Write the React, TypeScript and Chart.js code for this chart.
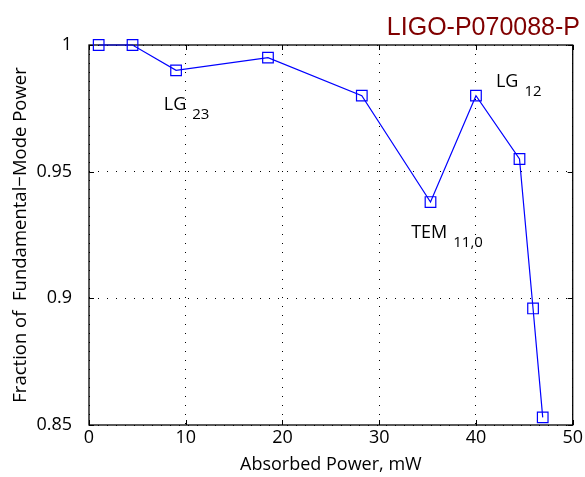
import React, { useEffect, useRef } from "react";
import { Chart, registerables } from "chart.js";

Chart.register(...registerables);

// ---- data ----
const absorbedPower = [1, 4.5, 9, 18.5, 28.2, 35.3, 40, 44.5, 45.9, 46.9];
const fundamentalFraction = [1, 1, 0.99, 0.995, 0.98, 0.938, 0.98, 0.955, 0.896, 0.853];
const xTicks = [0, 10, 20, 30, 40, 50];
const yTicks = [0.85, 0.9, 0.95, 1];
const annotationMain = ["LG", "LG", "TEM"];
const annotationSub = ["23", "12", "11,0"];
const annotationX = [7.73, 42.06, 33.3];
const annotationY = [0.9745, 0.9836, 0.9239];
const docId = "LIGO-P070088-P";
const xTitle = "Absorbed Power, mW";
const yTitle = "Fraction of  Fundamental\u2212Mode Power";

const FONT = "'Open Sans', 'DejaVu Sans', sans-serif";

const framePlugin = {
  id: "frameTicks",
  beforeDatasetsDraw(chart: any) {
    const { ctx, chartArea: a, scales } = chart;
    ctx.save();
    ctx.strokeStyle = "#000";
    ctx.lineWidth = 1;
    ctx.beginPath();
    const tl = 5;
    for (const v of xTicks) {
      const x = Math.round(scales.x.getPixelForValue(v)) + 0.5;
      ctx.moveTo(x, a.bottom);
      ctx.lineTo(x, a.bottom - tl);
      ctx.moveTo(x, a.top);
      ctx.lineTo(x, a.top + tl);
    }
    for (const v of yTicks) {
      const y = Math.round(scales.y.getPixelForValue(v)) + 0.5;
      ctx.moveTo(a.left, y);
      ctx.lineTo(a.left + tl, y);
      ctx.moveTo(a.right, y);
      ctx.lineTo(a.right - tl, y);
    }
    ctx.stroke();
    ctx.lineWidth = 1.3;
    ctx.strokeRect(a.left, a.top, a.right - a.left, a.bottom - a.top);
    ctx.restore();
  },
  afterDraw(chart: any) {
    const { ctx, scales } = chart;
    ctx.save();
    ctx.fillStyle = "#000";
    ctx.textAlign = "left";
    ctx.textBaseline = "alphabetic";
    for (let i = 0; i < annotationMain.length; i++) {
      const x = scales.x.getPixelForValue(annotationX[i]);
      const y = scales.y.getPixelForValue(annotationY[i]);
      ctx.font = `18px ${FONT}`;
      ctx.fillText(annotationMain[i], x, y);
      const w = ctx.measureText(annotationMain[i]).width;
      ctx.font = `15px ${FONT}`;
      ctx.fillText(annotationSub[i], x + w + 6, y + 9);
    }
    ctx.fillStyle = "#800000";
    ctx.font = `25px 'Liberation Sans', Arial, sans-serif`;
    ctx.textAlign = "right";
    ctx.fillText(docId, 580, 35);
    ctx.restore();
  },
};

export default function App() {
  const ref = useRef<HTMLCanvasElement | null>(null);

  useEffect(() => {
    if (!ref.current) return;
    const chart = new Chart(ref.current, {
      type: "line",
      data: {
        datasets: [
          {
            data: absorbedPower.map((x, i) => ({ x, y: fundamentalFraction[i] })),
            borderColor: "#0000ff",
            borderWidth: 1.2,
            pointStyle: "rect",
            pointRadius: 7.5,
            pointBorderWidth: 1.2,
            pointBorderColor: "#0000ff",
            pointBackgroundColor: "rgba(0,0,0,0)",
            backgroundColor: "rgba(0,0,0,0)",
            tension: 0,
            clip: false as any,
          },
        ],
      },
      options: {
        responsive: false,
        animation: false,
        devicePixelRatio: 1,
        layout: { padding: { top: 45, right: 12, left: 0, bottom: 0 } },
        plugins: { legend: { display: false }, tooltip: { enabled: false }, title: { display: false } },
        scales: {
          x: {
            type: "linear",
            min: 0,
            max: 50,
            afterBuildTicks: (s: any) => {
              s.ticks = xTicks.map((v) => ({ value: v }));
            },
            afterFit: (s: any) => {
              s.height = 52;
            },
            ticks: {
              color: "#000",
              font: { family: FONT, size: 18 },
              padding: 2,
              maxRotation: 0,
              callback: (v: any) => String(v),
            },
            grid: { color: "#000", lineWidth: 1, drawTicks: false },
            border: { display: false, dash: [1, 8] },
            title: {
              display: true,
              text: xTitle,
              color: "#000",
              font: { family: FONT, size: 18 },
              padding: { top: 0, bottom: 1 },
            },
          },
          y: {
            type: "linear",
            min: 0.85,
            max: 1,
            afterBuildTicks: (s: any) => {
              s.ticks = yTicks.map((v) => ({ value: v }));
            },
            afterFit: (s: any) => {
              s.width = 89;
            },
            ticks: {
              color: "#000",
              font: { family: FONT, size: 18 },
              padding: 17,
              callback: (v: any) => String(Number(Number(v).toFixed(2))),
            },
            grid: { color: "#000", lineWidth: 1, drawTicks: false },
            border: { display: false, dash: [1, 8] },
            title: {
              display: true,
              text: yTitle,
              color: "#000",
              font: { family: FONT, size: 18.5 },
              padding: { top: 10, bottom: 0 },
            },
          },
        },
      },
      plugins: [framePlugin],
    });
    return () => chart.destroy();
  }, []);

  return (
    <div style={{ position: "absolute", left: 0, top: 0, width: 585, height: 477, background: "#fff" }}>
      <canvas ref={ref} width={585} height={477} style={{ display: "block" }} />
    </div>
  );
}
